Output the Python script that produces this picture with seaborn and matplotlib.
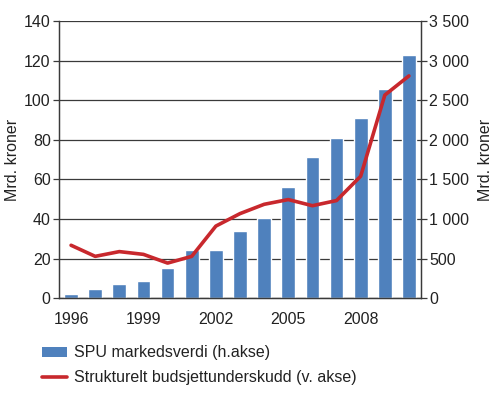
import matplotlib
matplotlib.use("Agg")
import matplotlib.pyplot as plt
import numpy as np
import pandas as pd
import seaborn as sns
from matplotlib.lines import Line2D
from matplotlib.patches import Patch

years = list(range(1996, 2011))
spu_value = [50, 113, 172, 222, 386, 614, 604, 847, 1012, 1399, 1784, 2019, 2275, 2640, 3077]
deficit = [26.7, 21.1, 23.5, 22.1, 17.7, 21.1, 36.4, 42.7, 47.4, 49.8, 46.7, 49.3, 61.6, 102.6, 112.3]
shown_years = ["1996", "1999", "2002", "2005", "2008"]
left_ticks = [0, 20, 40, 60, 80, 100, 120, 140]
right_ticks = [0, 500, 1000, 1500, 2000, 2500, 3000, 3500]
right_labels = ["0", "500", "1 000", "1 500", "2 000", "2 500", "3 000", "3 500"]

BAR_COLOR = "#4F81BD"
LINE_COLOR = "#C8282D"
GRID_COLOR = "#3a3a3a"
TEXT_COLOR = "#222222"

sns.set_style("white")
plt.rcParams["font.family"] = ["Liberation Sans", "DejaVu Sans"]
plt.rcParams["font.size"] = 11.5

df = pd.DataFrame({"year": [str(y) for y in years], "spu": spu_value, "deficit": deficit})
df["pos"] = np.arange(len(df))

fig = plt.figure(figsize=(5.0, 3.98), dpi=100)
ax = fig.add_axes([0.118, 0.251, 0.724, 0.696])
ax2 = ax.twinx()

# bars on the right axis, behind the line
sns.barplot(data=df, x="year", y="spu", ax=ax2, color=BAR_COLOR, width=0.57, saturation=1)
ax2.set_ylim(0, 3500)
ax2.set_yticks(right_ticks)
ax2.set_yticklabels(right_labels)
ax2.set_axisbelow(True)
ax2.yaxis.grid(True, color=GRID_COLOR, linewidth=0.9)
ax2.set_xlabel("")
ax2.set_ylabel("Mrd. kroner", color=TEXT_COLOR, labelpad=6)

sns.lineplot(data=df, x="pos", y="deficit", ax=ax, color=LINE_COLOR, linewidth=2.6)
ax.set_ylim(0, 140)
ax.set_yticks(left_ticks)
ax.set_ylabel("Mrd. kroner", color=TEXT_COLOR, labelpad=3)
ax.set_xlabel("")
ax.set_zorder(ax2.get_zorder() + 1)
ax.patch.set_visible(False)

ax.set_xlim(-0.5, len(years) - 0.5)
label_pos = [years.index(int(y)) for y in shown_years]
ax.set_xticks(label_pos)
ax.set_xticklabels(shown_years)
ax.set_xticks(np.arange(-0.5, len(years), 1.0), minor=True)
ax.tick_params(axis="x", which="major", length=0, pad=10, colors=TEXT_COLOR)
ax.tick_params(axis="x", which="minor", length=4, width=0.9, color=GRID_COLOR, direction="out")
ax.tick_params(axis="y", length=4, width=0.9, direction="out", colors=TEXT_COLOR, pad=2)
ax2.tick_params(axis="y", length=4, width=0.9, direction="out", colors=TEXT_COLOR, pad=2)
ax.tick_params(axis="y", which="both", color=GRID_COLOR)
ax2.tick_params(axis="y", which="both", color=GRID_COLOR)

for a in (ax, ax2):
    for side in ("left", "right", "bottom"):
        a.spines[side].set_visible(True)
        a.spines[side].set_color(GRID_COLOR)
        a.spines[side].set_linewidth(0.9)
    a.spines["top"].set_visible(False)

handles = [
    Patch(facecolor=BAR_COLOR, edgecolor="none"),
    Line2D([0], [0], color=LINE_COLOR, linewidth=2.6),
]
labels = ["SPU markedsverdi (h.akse)", "Strukturelt budsjettunderskudd (v. akse)"]
fig.legend(handles, labels, loc="upper left", bbox_to_anchor=(0.072, 0.148),
           frameon=False, handlelength=1.55, handleheight=0.6, handletextpad=0.4,
           labelspacing=0.6, borderaxespad=0, labelcolor=TEXT_COLOR)

fig.savefig("out.png", dpi=100)
